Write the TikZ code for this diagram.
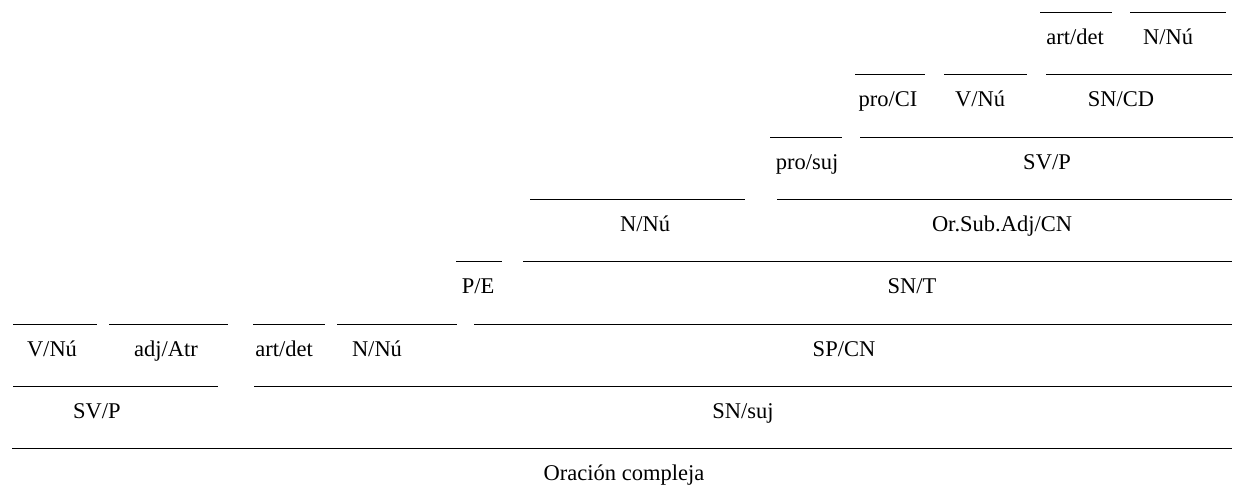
\documentclass[tikz,border=0pt]{standalone}
\usepackage{fontspec}
\setmainfont{Liberation Serif}

\begin{document}
\begin{tikzpicture}[x=1pt,y=-1pt,
  raya/.style={line width=0.9pt},
  etq/.style={anchor=base,inner sep=0pt,font=\fontsize{22.5}{27}\selectfont}]

\useasboundingbox (0,0) rectangle (1234,490);

% fila 1
\draw[raya] (1040,12) -- (1112,12);
\draw[raya] (1130,12) -- (1226,12);
\node[etq] (art2)  at (1075,44) {art/det};
\node[etq] (nnu3)  at (1168,44) {N/Nú};

% fila 2
\draw[raya] (855,74)  -- (925,74);
\draw[raya] (944,74)  -- (1027,74);
\draw[raya] (1046,74) -- (1232,74);
\node[etq] (proci) at (888,106)  {pro/CI};
\node[etq] (vnu2)  at (980,106)  {V/Nú};
\node[etq] (sncd)  at (1121,106) {SN/CD};

% fila 3
\draw[raya] (770,137) -- (842,137);
\draw[raya] (860,137) -- (1233,137);
\node[etq] (prosuj) at (807,169)  {pro/suj};
\node[etq] (svp2)   at (1047,169) {SV/P};

% fila 4
\draw[raya] (530,199) -- (745,199);
\draw[raya] (777,199) -- (1232,199);
\node[etq] (nnu2)  at (645,231)  {N/Nú};
\node[etq] (orsub) at (1002,231) {Or.Sub.Adj/CN};

% fila 5
\draw[raya] (456,261) -- (502,261);
\draw[raya] (523,261) -- (1232,261);
\node[etq] (pe)  at (478,293) {P/E};
\node[etq] (snt) at (912,293) {SN/T};

% fila 6
\draw[raya] (13,324)  -- (97,324);
\draw[raya] (109,324) -- (228,324);
\draw[raya] (253,324) -- (325,324);
\draw[raya] (337,324) -- (457,324);
\draw[raya] (474,324) -- (1232,324);
\node[etq] (vnu1) at (52,356)  {V/Nú};
\node[etq] (adj)  at (166,356) {adj/Atr};
\node[etq] (art1) at (284,356) {art/det};
\node[etq] (nnu1) at (377,356) {N/Nú};
\node[etq] (spcn) at (844,356) {SP/CN};

% fila 7
\draw[raya] (13,386)  -- (218,386);
\draw[raya] (254,386) -- (1232,386);
\node[etq] (svp1)  at (97,418)  {SV/P};
\node[etq] (snsuj) at (743,418) {SN/suj};

% fila 8
\draw[raya] (12,448) -- (1232,448);
\node[etq] (oracion) at (624,480) {Oración compleja};

\end{tikzpicture}
\end{document}
